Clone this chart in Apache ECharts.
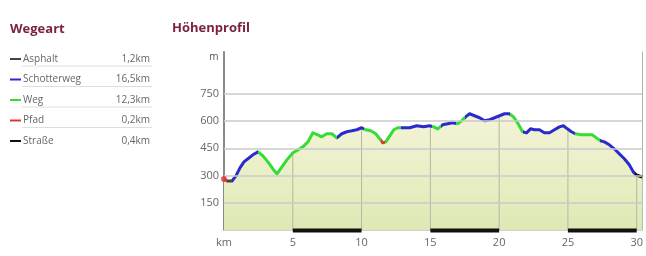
<!DOCTYPE html>
<html>
<head>
<meta charset="utf-8">
<script src="https://cdn.jsdelivr.net/npm/echarts@6/dist/echarts.min.js"></script>
<style>
html,body{margin:0;padding:0;background:#fff;}
#c{width:646px;height:256px;}
</style>
</head>
<body>
<div id="c"></div>
<script>
// Legend data (Wegeart)
var wayNames = ['Asphalt', 'Schotterweg', 'Weg', 'Pfad', 'Straße'];
var wayLengths = ['1,2km', '16,5km', '12,3km', '0,2km', '0,4km'];
var wayColors = ['#444444', '#2b2bcc', '#33dd33', '#e03535', '#111111'];

// Elevation profile
var km = [0, 0.22, 0.58, 0.87, 1.16, 1.45, 1.74, 2.10, 2.47, 2.83, 3.19, 3.56, 3.85, 4.21, 4.57, 5.01, 5.37, 5.73, 6.10, 6.46, 6.82, 7.11, 7.47, 7.84, 8.20, 8.56, 8.93, 9.29, 9.65, 10.01, 10.30, 10.67, 11.03, 11.32, 11.54, 11.76, 12.05, 12.34, 12.63, 12.99, 13.50, 14.01, 14.51, 14.95, 15.24, 15.53, 15.89, 16.26, 16.62, 16.98, 17.27, 17.56, 17.85, 18.21, 18.58, 18.94, 19.30, 19.67, 20.03, 20.39, 20.75, 21.04, 21.34, 21.70, 21.99, 22.28, 22.57, 22.93, 23.29, 23.66, 24.02, 24.38, 24.67, 24.96, 25.25, 25.54, 25.98, 26.42, 26.78, 27.07, 27.36, 27.65, 28.01, 28.37, 28.74, 29.10, 29.46, 29.75, 29.97, 30.40];
var elevation = [281, 270, 270, 298, 342, 375, 392, 414, 430, 408, 375, 336, 309, 347, 386, 425, 441, 458, 485, 535, 524, 513, 530, 530, 507, 530, 541, 546, 552, 563, 552, 546, 530, 502, 480, 485, 518, 552, 563, 563, 563, 574, 568, 574, 568, 557, 579, 585, 590, 585, 601, 623, 640, 629, 618, 601, 607, 618, 629, 640, 640, 623, 590, 541, 535, 557, 552, 552, 535, 535, 552, 568, 574, 557, 541, 530, 524, 524, 524, 507, 491, 485, 469, 447, 419, 392, 359, 320, 303, 292];

// Way type sections along the route: [from km, to km, type index]
var sectionFrom = [0, 0.22, 0.6, 2.47, 8.2, 10.2, 11.4, 11.7, 12.9, 15.1, 15.8, 16.9, 17.5, 20.8, 21.7, 25.5, 27.3, 29.9];
var sectionTo = [0.22, 0.6, 2.47, 8.2, 10.2, 11.4, 11.7, 12.9, 15.1, 15.8, 16.9, 17.5, 20.8, 21.7, 25.5, 27.3, 29.9, 31];
var sectionType = [3, 0, 1, 2, 1, 2, 3, 2, 1, 2, 1, 2, 1, 2, 1, 2, 1, 4];

// Axis ticks
var xTicks = [0, 5, 10, 15, 20, 25, 30];
var yTicks = [150, 300, 450, 600, 750];
var bandFrom = [5, 15, 25];
var bandTo = [10, 20, 30];

var profile = km.map(function (k, i) { return [k, elevation[i]]; });

function elevAt(x) {
  for (var i = 1; i < km.length; i++) {
    if (x <= km[i]) {
      var t = (x - km[i - 1]) / (km[i] - km[i - 1]);
      return elevation[i - 1] + t * (elevation[i] - elevation[i - 1]);
    }
  }
  return elevation[elevation.length - 1];
}

var pieces = sectionFrom.map(function (f, i) {
  return { gte: f, lt: sectionTo[i], color: wayColors[sectionType[i]] };
});

var FONT = '"Open Sans", "DejaVu Sans", sans-serif';
var TITLE = '#7a2340';

var graphics = [
  { type: 'text', left: 10, top: 23, style: { text: 'Wegeart', fill: TITLE, font: 'bold 13px ' + FONT } },
  { type: 'text', left: 172, top: 22, style: { text: 'Höhenprofil', fill: TITLE, font: 'bold 13px ' + FONT } },
  { type: 'text', x: 214, y: 57, style: { text: 'm', fill: '#555', font: '10px ' + FONT, align: 'center', verticalAlign: 'middle' } }
];
var rowY = [59, 79.5, 100, 120.5, 141];
wayNames.forEach(function (n, i) {
  var y = rowY[i];
  graphics.push({ type: 'line', shape: { x1: 10, y1: y, x2: 21, y2: y }, style: { stroke: wayColors[i], lineWidth: 2 } });
  graphics.push({ type: 'text', x: 23, y: y, style: { text: n, fill: '#666', font: '10px ' + FONT, verticalAlign: 'middle' } });
  graphics.push({ type: 'text', x: 150, y: y, style: { text: wayLengths[i], fill: '#666', font: '10px ' + FONT, align: 'right', verticalAlign: 'middle' } });
  if (i < wayNames.length - 1) {
    graphics.push({ type: 'line', shape: { x1: 22, y1: y + 7, x2: 152, y2: y + 7 }, style: { stroke: '#dedede', lineWidth: 1 } });
  }
});

var chart = echarts.init(document.getElementById('c'));
chart.setOption({
  animation: false,
  backgroundColor: '#fff',
  graphic: graphics,
  grid: { left: 224, right: 3, top: 52, bottom: 26 },
  xAxis: {
    type: 'value', min: 0, max: 30.4, interval: 5,
    axisLine: { lineStyle: { color: '#cfcfcf', width: 1 } },
    axisTick: { show: false },
    splitLine: { show: false },
    axisLabel: {
      color: '#666', fontSize: 11, fontFamily: FONT, margin: 7, showMaxLabel: true,
      formatter: function (v) {
        if (xTicks.indexOf(v) < 0) return '';
        return v === 0 ? 'km' : String(v);
      }
    }
  },
  yAxis: [{
    type: 'value', min: 0, max: 980, interval: 150,
    axisLine: { show: true, lineStyle: { color: '#8a8a8a', width: 2 } },
    axisTick: { show: false },
    splitLine: { show: false },
    axisLabel: {
      color: '#666', fontSize: 11, fontFamily: FONT, margin: 5,
      formatter: function (v) { return yTicks.indexOf(v) >= 0 ? String(v) : ''; }
    }
  }, {
    type: 'value', min: 0, max: 980, position: 'right',
    axisLine: { show: true, lineStyle: { color: '#b0b0b0', width: 1 } },
    axisTick: { show: false }, axisLabel: { show: false }, splitLine: { show: false }
  }],
  visualMap: {
    show: false, type: 'piecewise', dimension: 0, seriesIndex: 2,
    pieces: pieces
  },
  series: [
    {
      type: 'line', data: profile, showSymbol: false, z: 1, silent: true,
      lineStyle: { width: 0 },
      areaStyle: {
        opacity: 1,
        color: { type: 'linear', x: 0, y: 0, x2: 0, y2: 1, colorStops: [
          { offset: 0, color: '#f4f3d8' }, { offset: 0.5, color: '#eaefc6' }, { offset: 1, color: '#dde8b4' }] }
      }
    },
    {
      type: 'custom', z: 2, silent: true,
      data: xTicks.filter(function (v) { return v > 0; }).map(function (v) { return [v, elevAt(v)]; }),
      renderItem: function (params, api) {
        var p0 = api.coord([api.value(0), 0]);
        var p1 = api.coord([api.value(0), api.value(1)]);
        return { type: 'line', shape: { x1: p0[0], y1: p0[1], x2: p1[0], y2: p1[1] }, style: { stroke: '#b5b5a5', lineWidth: 1 } };
      },
      markLine: {
        silent: true, symbol: ['none', 'none'], label: { show: false },
        lineStyle: { color: '#cacaca', width: 1.5, type: 'solid' },
        data: yTicks.map(function (v) { return { yAxis: v }; })
      }
    },
    {
      type: 'line', data: profile, showSymbol: false, z: 3, silent: true,
      lineStyle: { width: 3, join: 'round' }
    },
    {
      type: 'custom', z: 4, silent: true,
      data: bandFrom.map(function (f, i) { return [f, bandTo[i]]; }),
      renderItem: function (params, api) {
        var a = api.coord([api.value(0), 0]);
        var b = api.coord([api.value(1), 0]);
        return { type: 'rect', shape: { x: a[0], y: a[1] - 1.5, width: b[0] - a[0], height: 4 }, style: { fill: '#111' } };
      }
    },
    {
      type: 'scatter', z: 5, silent: true, symbolSize: 6,
      itemStyle: { color: wayColors[sectionType[0]] },
      data: [profile[0]]
    }
  ]
});
</script>
</body>
</html>
